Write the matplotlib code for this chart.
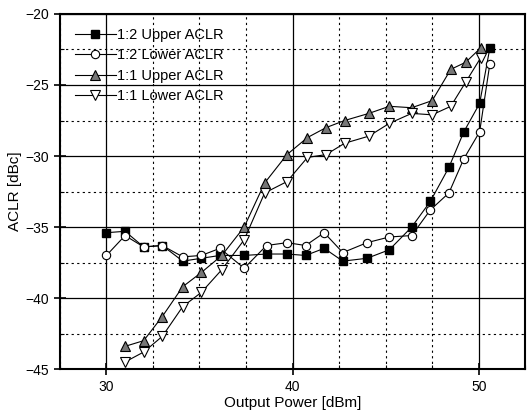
#ACLR vs output power, 1:2 and 1:1 configurations
import matplotlib
matplotlib.use("Agg")
import matplotlib.pyplot as plt
from matplotlib.ticker import MultipleLocator

plt.rcParams["font.family"] = ["Liberation Sans", "DejaVu Sans"]

#1:2 data (squares / circles share the same power sweep)
pout_12 = [30, 31, 32, 33, 34.1, 35.1, 36.1, 37.4, 38.6, 39.7, 40.7,
           41.7, 42.7, 44.0, 45.2, 46.4, 47.4, 48.4, 49.2, 50.05, 50.6]
upper_12 = [-35.4, -35.3, -36.4, -36.3, -37.4, -37.2, -37.0, -37.0, -36.9, -36.9, -37.0,
            -36.5, -37.4, -37.2, -36.6, -35.0, -33.2, -30.8, -28.3, -26.3, -22.4]
lower_12 = [-37.0, -35.6, -36.4, -36.3, -37.1, -37.0, -36.5, -37.9, -36.3, -36.1, -36.3,
            -35.4, -36.8, -36.1, -35.7, -35.6, -33.8, -32.6, -30.2, -28.3, -23.5]

#1:1 data
pout_11 = [31, 32, 33, 34.1, 35.1, 36.2, 37.4, 38.5, 39.7, 40.8,
           41.8, 42.8, 44.1, 45.2, 46.4, 47.5, 48.5, 49.3, 50.1]
upper_11 = [-43.4, -43.0, -41.3, -39.2, -38.2, -37.0, -35.0, -31.9, -29.9, -28.7,
            -28.0, -27.5, -27.0, -26.5, -26.6, -26.1, -23.9, -23.4, -22.4]
lower_11 = [-44.5, -43.8, -42.7, -40.6, -39.6, -38.0, -35.9, -32.6, -31.8, -30.1,
            -29.9, -29.1, -28.6, -27.7, -27.0, -27.1, -26.5, -24.8, -23.1]

fig = plt.figure(figsize=(5.3, 4.11), dpi=100)
ax = fig.add_axes([0.113, 0.102, 0.878, 0.864])

ax.plot(pout_12, upper_12, "-", color="black", lw=0.8, marker="s", ms=5.5,
        mfc="black", mec="black", label="1:2 Upper ACLR", zorder=5)
ax.plot(pout_12, lower_12, "-", color="black", lw=0.8, marker="o", ms=6,
        mfc="white", mec="black", mew=0.8, label="1:2 Lower ACLR", zorder=5)
ax.plot(pout_11, upper_11, "-", color="black", lw=0.8, marker="^", ms=7,
        mfc="#777777", mec="black", mew=0.8, label="1:1 Upper ACLR", zorder=5)
ax.plot(pout_11, lower_11, "-", color="black", lw=0.8, marker="v", ms=7,
        mfc="white", mec="black", mew=0.8, label="1:1 Lower ACLR", zorder=5)

ax.set_xlim(27.5, 52.5)
ax.set_ylim(-45, -20)
ax.xaxis.set_major_locator(MultipleLocator(10))
ax.xaxis.set_minor_locator(MultipleLocator(2.5))
ax.yaxis.set_major_locator(MultipleLocator(5))
ax.yaxis.set_minor_locator(MultipleLocator(2.5))

#solid major grid, dotted minor grid
ax.grid(which="major", color="black", lw=0.9, ls="-")
ax.grid(which="minor", color="black", lw=0.8, ls=(0, (2, 3)))
ax.set_axisbelow(True)

ax.tick_params(which="major", direction="inout", length=8, width=1.2,
               labelsize=10, pad=4)
ax.tick_params(which="minor", direction="in", length=3, width=0.8)
for s in ax.spines.values():
    s.set_linewidth(1.5)

ax.set_xlabel("Output Power [dBm]", fontsize=11, labelpad=1)
ax.set_ylabel("ACLR [dBc]", fontsize=11, labelpad=2)

ax.legend(loc="upper left", frameon=False, fontsize=10.5, handlelength=2.8,
          handletextpad=0.1, labelspacing=0.45, borderaxespad=0.3,
          bbox_to_anchor=(0.01, 0.99))

fig.savefig("out.png", dpi=100)
